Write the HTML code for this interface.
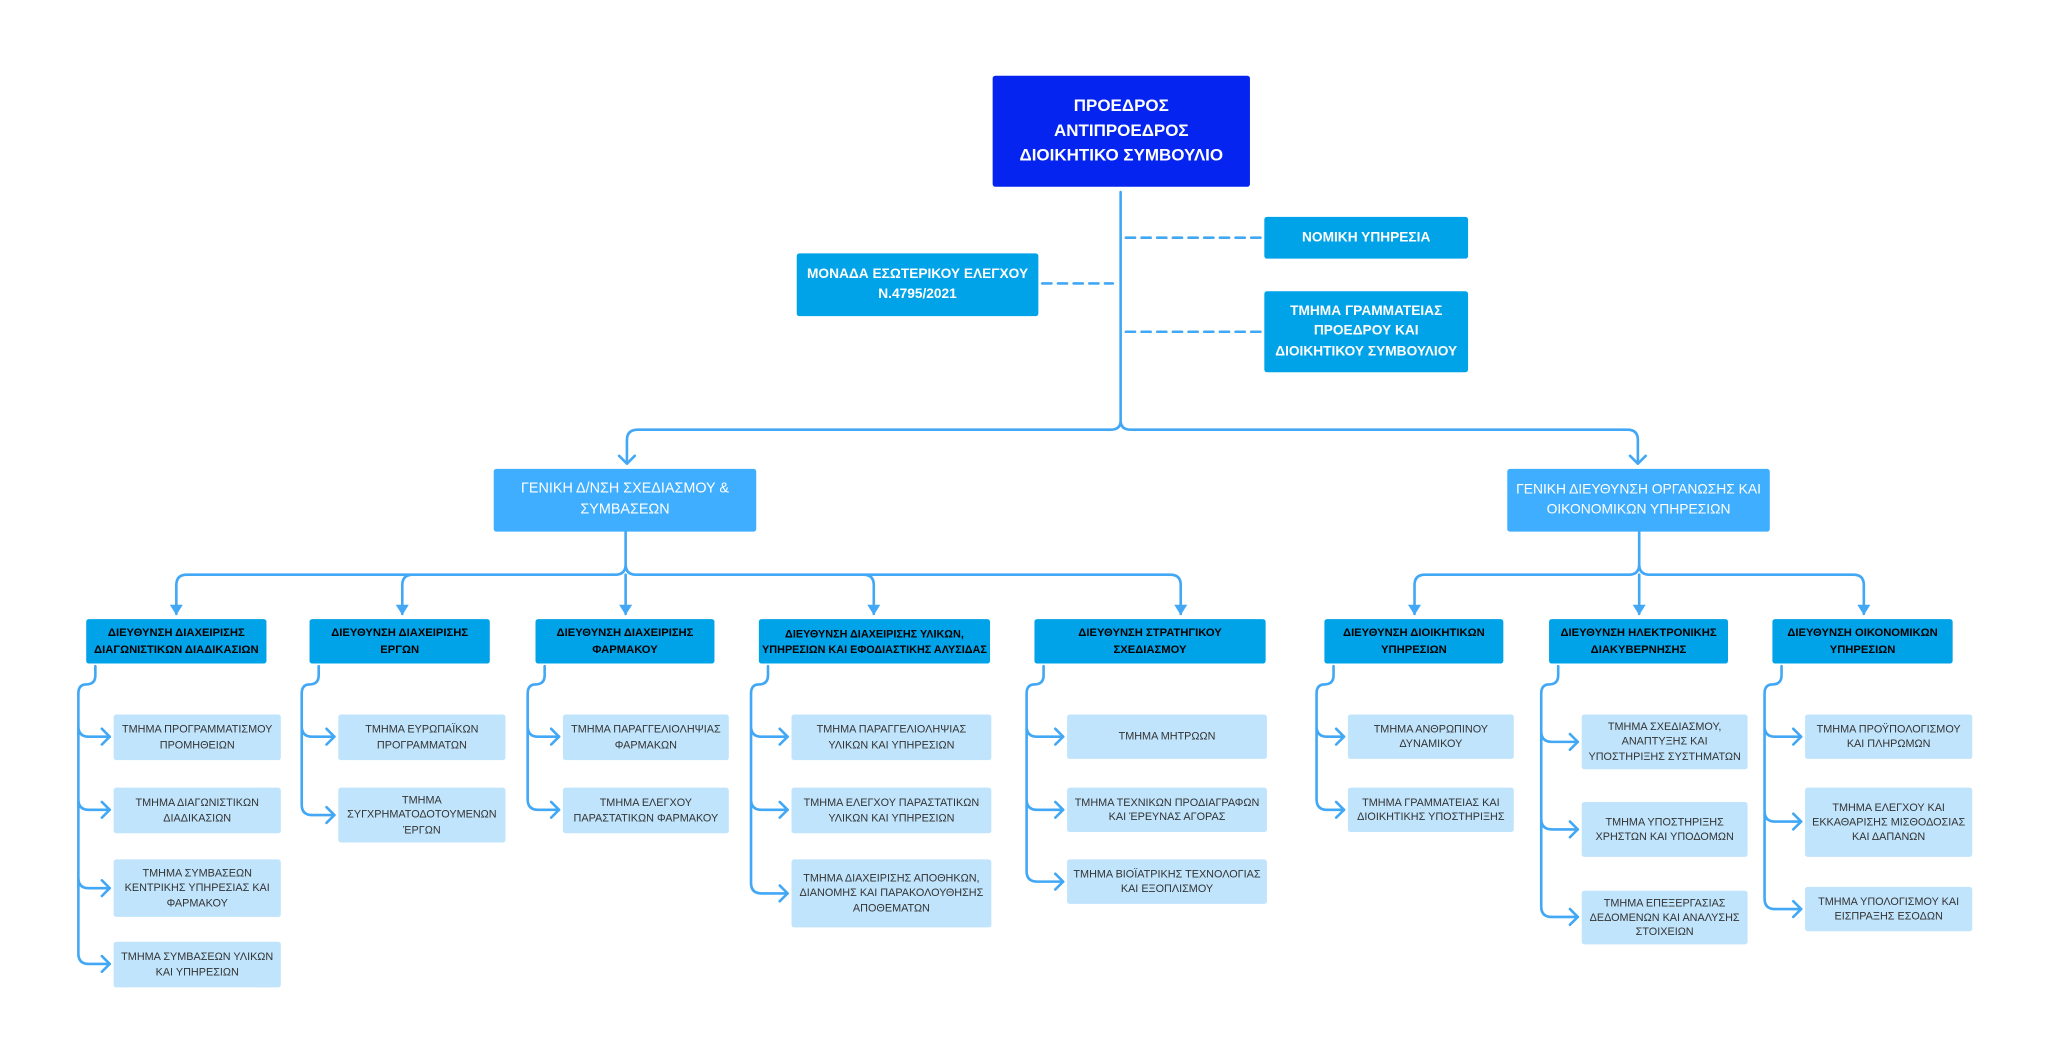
<!DOCTYPE html>
<html><head><meta charset="utf-8"><style>
html,body{margin:0;padding:0;background:#fff;width:2048px;height:1063px;overflow:hidden}
#w{position:absolute;left:0;top:0;width:1568px;height:814px;transform:scale(1.30612);transform-origin:0 0;font-family:"Liberation Sans","DejaVu Sans",sans-serif}
.b{position:absolute;display:flex;align-items:center;justify-content:center;text-align:center;box-sizing:border-box;border-radius:2px;line-height:1.35}
.top{background:#0524f0;color:#fff;font-weight:bold;font-size:13px;line-height:1.45}
.st{background:#00a2e8;color:#fff;font-weight:bold;font-size:10.5px}
.g{background:#40aeff;color:#fff;font-size:11px;white-space:nowrap;line-height:1.45}
.d{background:#00a2e8;color:#000;font-weight:bold;font-size:8.6px;line-height:1.5}
.s{background:#c0e4fc;color:#333;font-size:8.3px;padding:0 3px}
svg{position:absolute;left:0;top:0}
</style></head><body><div id="w">
<svg width="1568" height="814" viewBox="0 0 1568 814" fill="none" stroke="#42a8f5" stroke-width="2" stroke-linecap="round" stroke-linejoin="round">
<path d="M858 147 V322 Q858 329 850 329 H488 Q480 329 480 337 V354 M858 322 Q858 329 866 329 H1246 Q1254 329 1254 337 V354"/>
<path d="M474 349 L480 355 L486 349 M1248 349 L1254 355 L1260 349"/>
<g stroke-dasharray="7 5"><path d="M862 182 H965 M862 254 H965 M798 217 H852"/></g>
<path d="M479 407 V432 Q479 440 471 440 H143 Q135 440 135 448 V470 M479 432 Q479 440 487 440 H896 Q904 440 904 448 V470 M479 440 V470 M308 470 V448 Q308 440 316 440 M669 470 V448 Q669 440 661 440"/>
<path d="M1255 407 V432 Q1255 440 1247 440 H1091 Q1083 440 1083 448 V470 M1255 432 Q1255 440 1263 440 H1419 Q1427 440 1427 448 V470 M1255 440 V470"/>
<g fill="#42a8f5" stroke="none">
<path d="M130 463 L140 463 L135 471Z M303 463 L313 463 L308 471Z M474 463 L484 463 L479 471Z M664 463 L674 463 L669 471Z M899 463 L909 463 L904 471Z M1078 463 L1088 463 L1083 471Z M1250 463 L1260 463 L1255 471Z M1422 463 L1432 463 L1427 471Z"/>
</g>
<path d="M73 510 V517 Q73 524 66 524 Q60 524 60 531 V730 Q60 738 68 738 H84 M60 556 Q60 564 68 564 H84 M60 612 Q60 620 68 620 H84 M60 672 Q60 680 68 680 H84"/>
<path d="M78 558 L84 564 L78 570 M78 614 L84 620 L78 626 M78 674 L84 680 L78 686 M78 732 L84 738 L78 744"/>
<path d="M244 510 V517 Q244 524 237 524 Q231 524 231 531 V616 Q231 624 239 624 H256 M231 556 Q231 564 239 564 H256"/>
<path d="M250 558 L256 564 L250 570 M250 618 L256 624 L250 630"/>
<path d="M417 510 V517 Q417 524 410 524 Q404 524 404 531 V612 Q404 620 412 620 H428 M404 556 Q404 564 412 564 H428"/>
<path d="M422 558 L428 564 L422 570 M422 614 L428 620 L422 626"/>
<path d="M588 510 V517 Q588 524 581 524 Q575 524 575 531 V676 Q575 684 583 684 H603 M575 556 Q575 564 583 564 H603 M575 612 Q575 620 583 620 H603"/>
<path d="M597 558 L603 564 L597 570 M597 614 L603 620 L597 626 M597 678 L603 684 L597 690"/>
<path d="M799 510 V517 Q799 524 792 524 Q786 524 786 531 V667 Q786 675 794 675 H814 M786 556 Q786 564 794 564 H814 M786 612 Q786 620 794 620 H814"/>
<path d="M808 558 L814 564 L808 570 M808 614 L814 620 L808 626 M808 669 L814 675 L808 681"/>
<path d="M1021 510 V517 Q1021 524 1014 524 Q1008 524 1008 531 V612 Q1008 620 1016 620 H1029 M1008 556 Q1008 564 1016 564 H1029"/>
<path d="M1023 558 L1029 564 L1023 570 M1023 614 L1029 620 L1023 626"/>
<path d="M1193 510 V517 Q1193 524 1186 524 Q1180 524 1180 531 V694 Q1180 702 1188 702 H1208 M1180 560 Q1180 568 1188 568 H1208 M1180 627 Q1180 635 1188 635 H1208"/>
<path d="M1202 562 L1208 568 L1202 574 M1202 629 L1208 635 L1202 641 M1202 696 L1208 702 L1202 708"/>
<path d="M1364 510 V517 Q1364 524 1357 524 Q1351 524 1351 531 V688 Q1351 696 1359 696 H1379 M1351 556 Q1351 564 1359 564 H1379 M1351 621 Q1351 629 1359 629 H1379"/>
<path d="M1373 558 L1379 564 L1373 570 M1373 623 L1379 629 L1373 635 M1373 690 L1379 696 L1373 702"/>
</svg>

<div class="b top" style="left:760px;top:58px;width:197px;height:85px">ΠΡΟΕΔΡΟΣ<br>ΑΝΤΙΠΡΟΕΔΡΟΣ<br>ΔΙΟΙΚΗΤΙΚΟ ΣΥΜΒΟΥΛΙΟ</div>
<div class="b st" style="left:968px;top:166px;width:156px;height:32px">ΝΟΜΙΚΗ ΥΠΗΡΕΣΙΑ</div>
<div class="b st" style="left:968px;top:223px;width:156px;height:62px;line-height:1.45">ΤΜΗΜΑ ΓΡΑΜΜΑΤΕΙΑΣ<br>ΠΡΟΕΔΡΟΥ ΚΑΙ<br>ΔΙΟΙΚΗΤΙΚΟΥ ΣΥΜΒΟΥΛΙΟΥ</div>
<div class="b st" style="left:610px;top:194px;width:185px;height:48px;line-height:1.45">ΜΟΝΑΔΑ ΕΣΩΤΕΡΙΚΟΥ ΕΛΕΓΧΟΥ<br>Ν.4795/2021</div>

<div class="b g" style="left:378px;top:359px;width:201px;height:48px">ΓΕΝΙΚΗ Δ/ΝΣΗ ΣΧΕΔΙΑΣΜΟΥ &amp;<br>ΣΥΜΒΑΣΕΩΝ</div>
<div class="b g" style="left:1154px;top:359px;width:201px;height:48px;font-size:10.6px">ΓΕΝΙΚΗ ΔΙΕΥΘΥΝΣΗ ΟΡΓΑΝΩΣΗΣ ΚΑΙ<br>ΟΙΚΟΝΟΜΙΚΩΝ ΥΠΗΡΕΣΙΩΝ</div>

<div class="b d" style="left:66px;top:474px;width:138px;height:34px">ΔΙΕΥΘΥΝΣΗ ΔΙΑΧΕΙΡΙΣΗΣ<br>ΔΙΑΓΩΝΙΣΤΙΚΩΝ ΔΙΑΔΙΚΑΣΙΩΝ</div>
<div class="b d" style="left:237px;top:474px;width:138px;height:34px">ΔΙΕΥΘΥΝΣΗ ΔΙΑΧΕΙΡΙΣΗΣ<br>ΕΡΓΩΝ</div>
<div class="b d" style="left:410px;top:474px;width:137px;height:34px">ΔΙΕΥΘΥΝΣΗ ΔΙΑΧΕΙΡΙΣΗΣ<br>ΦΑΡΜΑΚΟΥ</div>
<div class="b d" style="left:581px;top:474px;width:177px;height:34px;font-size:8.3px">ΔΙΕΥΘΥΝΣΗ ΔΙΑΧΕΙΡΙΣΗΣ ΥΛΙΚΩΝ,<br>ΥΠΗΡΕΣΙΩΝ ΚΑΙ ΕΦΟΔΙΑΣΤΙΚΗΣ ΑΛΥΣΙΔΑΣ</div>
<div class="b d" style="left:792px;top:474px;width:177px;height:34px">ΔΙΕΥΘΥΝΣΗ ΣΤΡΑΤΗΓΙΚΟΥ<br>ΣΧΕΔΙΑΣΜΟΥ</div>
<div class="b d" style="left:1014px;top:474px;width:137px;height:34px">ΔΙΕΥΘΥΝΣΗ ΔΙΟΙΚΗΤΙΚΩΝ<br>ΥΠΗΡΕΣΙΩΝ</div>
<div class="b d" style="left:1186px;top:474px;width:137px;height:34px">ΔΙΕΥΘΥΝΣΗ ΗΛΕΚΤΡΟΝΙΚΗΣ<br>ΔΙΑΚΥΒΕΡΝΗΣΗΣ</div>
<div class="b d" style="left:1357px;top:474px;width:138px;height:34px">ΔΙΕΥΘΥΝΣΗ ΟΙΚΟΝΟΜΙΚΩΝ<br>ΥΠΗΡΕΣΙΩΝ</div>

<div class="b s" style="left:87px;top:547px;width:128px;height:35px">ΤΜΗΜΑ ΠΡΟΓΡΑΜΜΑΤΙΣΜΟΥ ΠΡΟΜΗΘΕΙΩΝ</div>
<div class="b s" style="left:87px;top:603px;width:128px;height:35px">ΤΜΗΜΑ ΔΙΑΓΩΝΙΣΤΙΚΩΝ ΔΙΑΔΙΚΑΣΙΩΝ</div>
<div class="b s" style="left:87px;top:658px;width:128px;height:44px">ΤΜΗΜΑ ΣΥΜΒΑΣΕΩΝ ΚΕΝΤΡΙΚΗΣ ΥΠΗΡΕΣΙΑΣ ΚΑΙ ΦΑΡΜΑΚΟΥ</div>
<div class="b s" style="left:87px;top:721px;width:128px;height:35px">ΤΜΗΜΑ ΣΥΜΒΑΣΕΩΝ ΥΛΙΚΩΝ ΚΑΙ ΥΠΗΡΕΣΙΩΝ</div>

<div class="b s" style="left:259px;top:547px;width:128px;height:35px">ΤΜΗΜΑ ΕΥΡΩΠΑΪΚΩΝ ΠΡΟΓΡΑΜΜΑΤΩΝ</div>
<div class="b s" style="left:259px;top:603px;width:128px;height:42px">ΤΜΗΜΑ ΣΥΓΧΡΗΜΑΤΟΔΟΤΟΥΜΕΝΩΝ ΈΡΓΩΝ</div>

<div class="b s" style="left:431px;top:547px;width:127px;height:35px">ΤΜΗΜΑ ΠΑΡΑΓΓΕΛΙΟΛΗΨΙΑΣ ΦΑΡΜΑΚΩΝ</div>
<div class="b s" style="left:431px;top:603px;width:127px;height:35px">ΤΜΗΜΑ ΕΛΕΓΧΟΥ ΠΑΡΑΣΤΑΤΙΚΩΝ ΦΑΡΜΑΚΟΥ</div>

<div class="b s" style="left:606px;top:547px;width:153px;height:35px">ΤΜΗΜΑ ΠΑΡΑΓΓΕΛΙΟΛΗΨΙΑΣ ΥΛΙΚΩΝ ΚΑΙ ΥΠΗΡΕΣΙΩΝ</div>
<div class="b s" style="left:606px;top:603px;width:153px;height:35px">ΤΜΗΜΑ ΕΛΕΓΧΟΥ ΠΑΡΑΣΤΑΤΙΚΩΝ ΥΛΙΚΩΝ ΚΑΙ ΥΠΗΡΕΣΙΩΝ</div>
<div class="b s" style="left:606px;top:658px;width:153px;height:52px">ΤΜΗΜΑ ΔΙΑΧΕΙΡΙΣΗΣ ΑΠΟΘΗΚΩΝ, ΔΙΑΝΟΜΗΣ ΚΑΙ ΠΑΡΑΚΟΛΟΥΘΗΣΗΣ ΑΠΟΘΕΜΑΤΩΝ</div>

<div class="b s" style="left:817px;top:547px;width:153px;height:34px">ΤΜΗΜΑ ΜΗΤΡΩΩΝ</div>
<div class="b s" style="left:817px;top:603px;width:153px;height:34px">ΤΜΗΜΑ ΤΕΧΝΙΚΩΝ ΠΡΟΔΙΑΓΡΑΦΩΝ ΚΑΙ ΈΡΕΥΝΑΣ ΑΓΟΡΑΣ</div>
<div class="b s" style="left:817px;top:658px;width:153px;height:34px">ΤΜΗΜΑ ΒΙΟΪΑΤΡΙΚΗΣ ΤΕΧΝΟΛΟΓΙΑΣ ΚΑΙ ΕΞΟΠΛΙΣΜΟΥ</div>

<div class="b s" style="left:1032px;top:547px;width:127px;height:34px">ΤΜΗΜΑ ΑΝΘΡΩΠΙΝΟΥ ΔΥΝΑΜΙΚΟΥ</div>
<div class="b s" style="left:1032px;top:603px;width:127px;height:34px">ΤΜΗΜΑ ΓΡΑΜΜΑΤΕΙΑΣ ΚΑΙ ΔΙΟΙΚΗΤΙΚΗΣ ΥΠΟΣΤΗΡΙΞΗΣ</div>

<div class="b s" style="left:1211px;top:547px;width:127px;height:42px">ΤΜΗΜΑ ΣΧΕΔΙΑΣΜΟΥ, ΑΝΑΠΤΥΞΗΣ ΚΑΙ ΥΠΟΣΤΗΡΙΞΗΣ ΣΥΣΤΗΜΑΤΩΝ</div>
<div class="b s" style="left:1211px;top:614px;width:127px;height:42px">ΤΜΗΜΑ ΥΠΟΣΤΗΡΙΞΗΣ ΧΡΗΣΤΩΝ ΚΑΙ ΥΠΟΔΟΜΩΝ</div>
<div class="b s" style="left:1211px;top:682px;width:127px;height:41px">ΤΜΗΜΑ ΕΠΕΞΕΡΓΑΣΙΑΣ ΔΕΔΟΜΕΝΩΝ ΚΑΙ ΑΝΑΛΥΣΗΣ ΣΤΟΙΧΕΙΩΝ</div>

<div class="b s" style="left:1382px;top:547px;width:128px;height:34px">ΤΜΗΜΑ ΠΡΟΫΠΟΛΟΓΙΣΜΟΥ ΚΑΙ ΠΛΗΡΩΜΩΝ</div>
<div class="b s" style="left:1382px;top:603px;width:128px;height:53px">ΤΜΗΜΑ ΕΛΕΓΧΟΥ ΚΑΙ ΕΚΚΑΘΑΡΙΣΗΣ ΜΙΣΘΟΔΟΣΙΑΣ ΚΑΙ ΔΑΠΑΝΩΝ</div>
<div class="b s" style="left:1382px;top:679px;width:128px;height:34px">ΤΜΗΜΑ ΥΠΟΛΟΓΙΣΜΟΥ ΚΑΙ ΕΙΣΠΡΑΞΗΣ ΕΣΟΔΩΝ</div>
</div></body></html>
